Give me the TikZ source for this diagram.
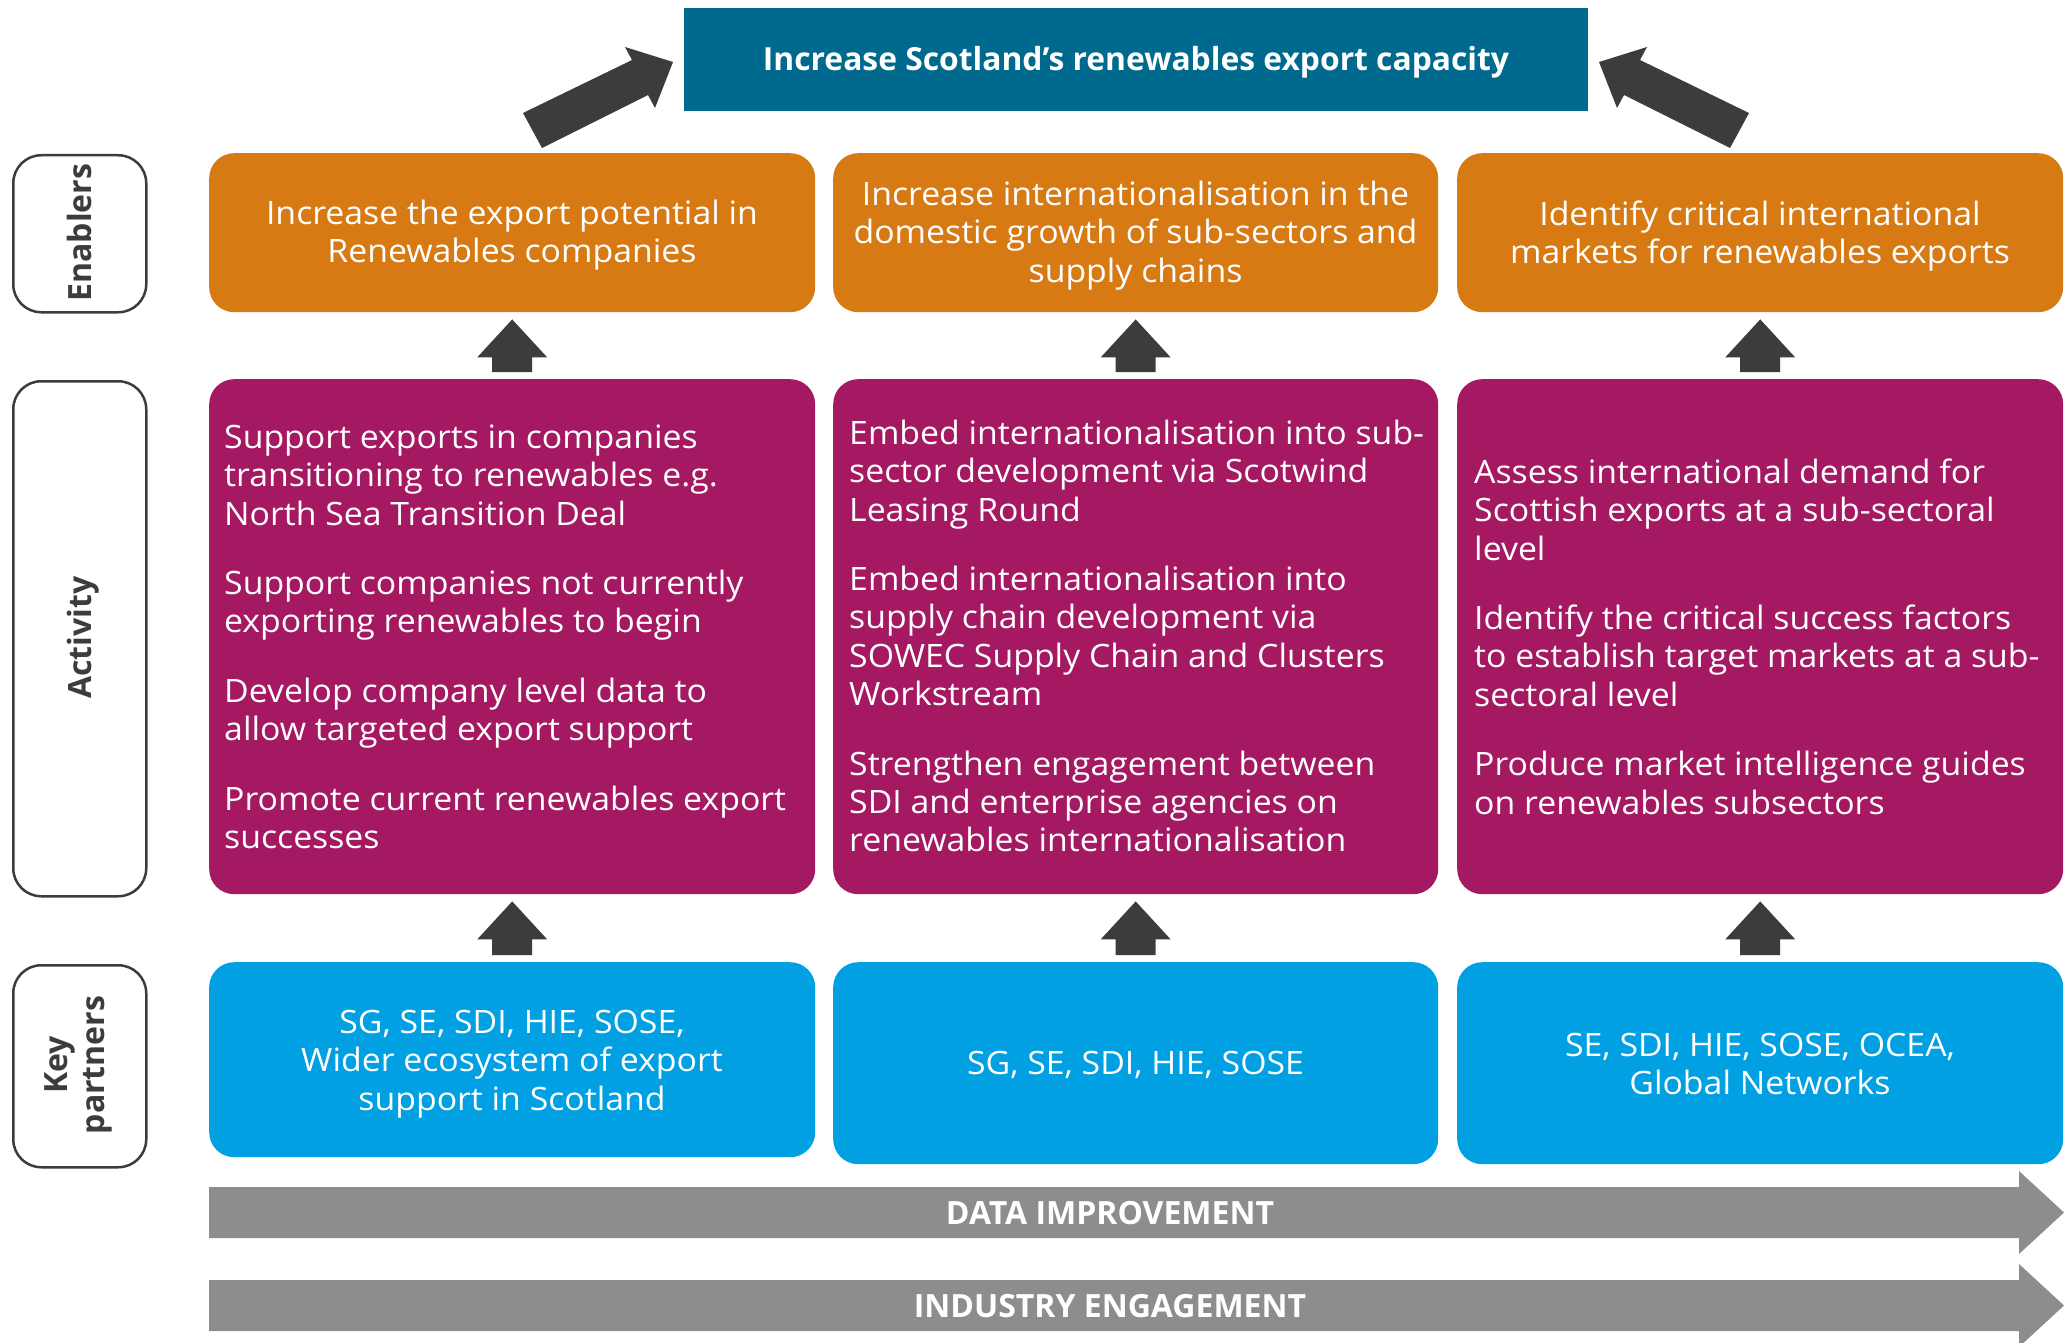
\documentclass[tikz,border=0pt]{standalone}
\usepackage{fontspec}
\setmainfont{Open Sans}[FakeStretch=1.05]
\newfontfamily\hfont{Open Sans}
\usetikzlibrary{calc}
\definecolor{bannerc}{RGB}{0,105,142}
\definecolor{enabc}{RGB}{215,122,20}
\definecolor{actc}{RGB}{165,25,98}
\definecolor{partc}{RGB}{0,160,227}
\definecolor{darkc}{RGB}{60,60,60}
\definecolor{grayc}{RGB}{142,140,141}
\newcommand\blockup[2]{%
  \fill[darkc] let \p1=(#2.south), \p2=(#1.north) in
    (\x1,\y1-7pt) -- (\x1+35pt,\y1-45pt) -- (\x1+20pt,\y1-45pt) -- (\x1+20pt,\y2+7pt)
    -- (\x1-20pt,\y2+7pt) -- (\x1-20pt,\y1-45pt) -- (\x1-35pt,\y1-45pt) -- cycle;}
\begin{document}
\begin{tikzpicture}[x=1pt,y=-1pt,
  colbox/.style={rounded corners=25pt, inner sep=0, anchor=north west, minimum width=606pt},
  lblbox/.style={draw=darkc, line width=2.5pt, rounded corners=28pt, inner sep=0, anchor=north west, minimum width=133pt},
  bodytxt/.style={font=\fontsize{32.2}{38.4}\selectfont, text=white, inner sep=0, align=left, anchor=north west},
  ctrtxt/.style={font=\fontsize{32.2}{38.4}\selectfont, text=white, inner sep=0, align=center, anchor=north},
  lbltxt/.style={font=\hfont\bfseries\fontsize{32}{37}\selectfont, text=darkc, inner sep=0, rotate=90},
  headtxt/.style={font=\hfont\bfseries\fontsize{32}{36}\selectfont, text=white, inner sep=0, anchor=base}]
\fill[white] (0,0) rectangle (2071,1343);
\useasboundingbox (0,0) rectangle (2071,1343);

% banner
\node[fill=bannerc, inner sep=0, anchor=north west, minimum width=904pt, minimum height=103pt] (goal) at (684,8) {};
\node[headtxt, font=\hfont\bfseries\fontsize{31.8}{36}\selectfont] (goaltxt) at (1136,71) {Increase Scotland’s renewables export capacity};

% diagonal arrows
\fill[darkc] (523,113) -- (632,60) -- (625,47) -- (673,62) -- (655,108) -- (648,95) -- (542,148) -- cycle;
\fill[darkc] (1749,113) -- (1640,60) -- (1647,47) -- (1599,62) -- (1617,108) -- (1624,95) -- (1730,148) -- cycle;

% left labels
\node[lblbox, minimum height=157pt] (l1) at (12,154) {};
\node[lblbox, minimum height=515pt] (l2) at (12,380) {};
\node[lblbox, minimum height=202pt] (l3) at (12,964) {};
\node[lbltxt, anchor=base] (l1t) at (91,232.5) {Enablers};
\node[lbltxt, anchor=base] (l2t) at (91,637.5) {Activity};
\node[lbltxt, align=center, anchor=center] (l3t) at (78.5,1065) {Key\\partners};

% enablers
\node[colbox, fill=enabc, minimum height=159pt] (e1) at (209,153) {};
\node[colbox, fill=enabc, minimum height=159pt, minimum width=605pt] (e2) at (833,153) {};
\node[colbox, fill=enabc, minimum height=159pt] (e3) at (1457,153) {};
\node[ctrtxt] (e1t) at (512,194.25) {\rule{0pt}{30pt}Increase the export potential in\\Renewables companies};
\node[ctrtxt] (e2t) at (1135.5,175) {\rule{0pt}{30pt}Increase internationalisation in the\\domestic growth of sub-sectors and\\supply chains};
\node[ctrtxt] (e3t) at (1760,195) {\rule{0pt}{30pt}Identify critical international\\markets for renewables exports};

% activities
\node[colbox, fill=actc, minimum height=515pt] (a1) at (209,379) {};
\node[colbox, fill=actc, minimum height=515pt, minimum width=605pt] (a2) at (833,379) {};
\node[colbox, fill=actc, minimum height=515pt] (a3) at (1457,379) {};
\node[bodytxt] (a1t) at (224,418) {\rule{0pt}{30pt}Support exports in companies\\transitioning to renewables e.g.\\North Sea Transition Deal\\[31pt]Support companies not currently\\exporting renewables to begin\\[31pt]Develop company level data to\\allow targeted export support\\[31pt]Promote current renewables export\\successes};
\node[bodytxt] (a2t) at (849,414) {\rule{0pt}{30pt}Embed internationalisation into sub-\\sector development via Scotwind\\Leasing Round\\[31pt]Embed internationalisation into\\supply chain development via\\SOWEC Supply Chain and Clusters\\Workstream\\[31pt]Strengthen engagement between\\SDI and enterprise agencies on\\renewables internationalisation};
\node[bodytxt] (a3t) at (1474,453) {\rule{0pt}{30pt}Assess international demand for\\Scottish exports at a sub-sectoral\\level\\[31pt]Identify the critical success factors\\to establish target markets at a sub-\\sectoral level\\[31pt]Produce market intelligence guides\\on renewables subsectors};

% partners
\node[colbox, fill=partc, minimum height=195pt] (p1) at (209,962) {};
\node[colbox, fill=partc, minimum height=202pt, minimum width=605pt] (p2) at (833,962) {};
\node[colbox, fill=partc, minimum height=202pt] (p3) at (1457,962) {};
\node[ctrtxt] (p1t) at (512,1003) {\rule{0pt}{30pt}SG, SE, SDI, HIE, SOSE,\\Wider ecosystem of export\\support in Scotland};
\node[ctrtxt] (p2t) at (1135.5,1044) {\rule{0pt}{30pt}SG, SE, SDI, HIE, SOSE};
\node[ctrtxt] (p3t) at (1760,1026) {\rule{0pt}{30pt}SE, SDI, HIE, SOSE, OCEA,\\Global Networks};

% up arrows
\blockup{a1}{e1}
\blockup{a2}{e2}
\blockup{a3}{e3}
\blockup{p1}{a1}
\blockup{p2}{a2}
\blockup{p3}{a3}

% bottom arrows
\fill[grayc] (209,1187) -- (2019,1187) -- (2019,1171) -- (2064,1212.5) -- (2019,1254) -- (2019,1238) -- (209,1238) -- cycle;
\fill[grayc] (209,1280) -- (2019,1280) -- (2019,1264) -- (2064,1305.5) -- (2019,1347) -- (2019,1331) -- (209,1331) -- cycle;
\node[headtxt] (dtxt) at (1110,1224) {DATA IMPROVEMENT};
\node[headtxt] (itxt) at (1110,1317) {INDUSTRY ENGAGEMENT};
\end{tikzpicture}
\end{document}
